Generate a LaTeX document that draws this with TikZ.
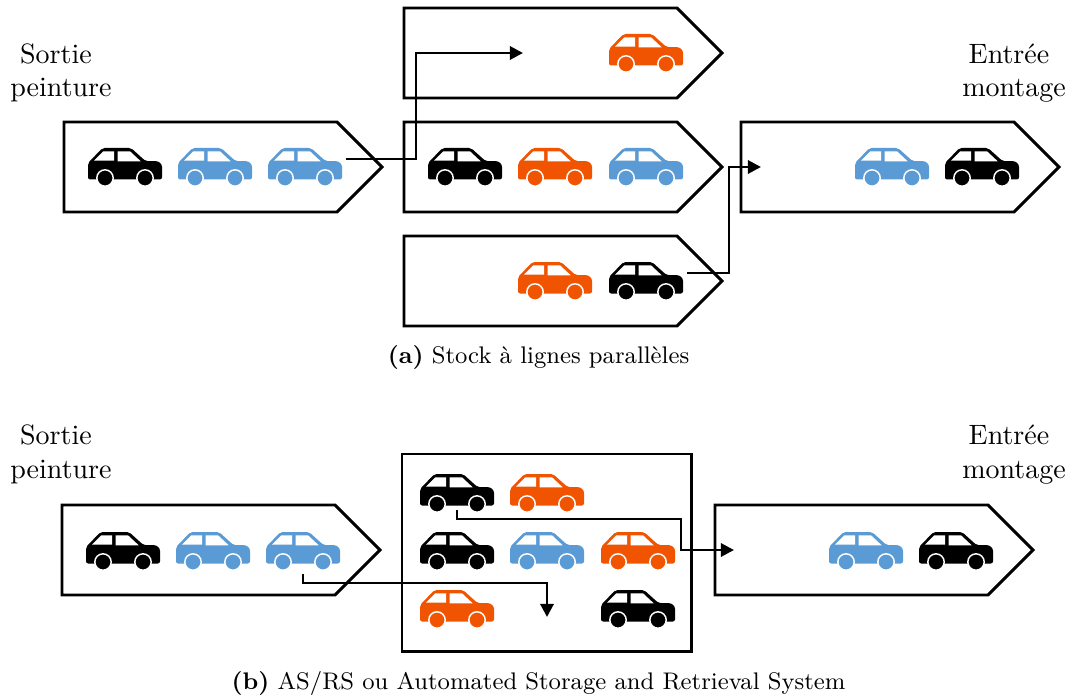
\documentclass[tikz,border=0pt]{standalone}
\usetikzlibrary{arrows.meta,shapes.symbols}
\definecolor{carblue}{HTML}{5B9BD5}
\definecolor{carorange}{HTML}{F05400}
\tikzset{
  pics/car/.style={code={
    \fill[#1,rounded corners=0.8pt] (0,31.5) -- (0,15) -- (14.5,0) -- (43,0) -- (57.7,13.2)
      -- (66,13.2) .. controls (71,13.2) and (74,16) .. (74,21) -- (74,31.5) -- cycle;
    \fill[white] (6,12.7) -- (15.3,3.3) -- (26,3.3) -- (26,12.7) -- cycle;
    \fill[white] (29.7,3.3) -- (42,3.3) -- (52.7,13.3) -- (29.7,13.3) -- cycle;
    \filldraw[#1,draw=white,line width=0.55pt] (17,30) circle (8.2);
    \filldraw[#1,draw=white,line width=0.55pt] (57,30) circle (8.2);
    \coordinate (-nose) at (78,11);
    \coordinate (-under) at (37,36);
  }},
  lane/.style={signal,signal to=east,signal pointer angle=90,draw,line width=1.1pt,
    minimum width=119.25pt,minimum height=33.75pt,inner sep=0pt,outer sep=0pt},
  flow/.style={draw,line width=1.1pt,-{Triangle[length=4.9pt,width=4.9pt]}}
}
\begin{document}
\begin{tikzpicture}[x=0.375pt,y=-0.375pt]
        \useasboundingbox (0,0) rectangle (1067,695);

        \begin{scope}[every node/.style={lane}]
          \node (in1)   at (200.5,167) {};
          \node (top)   at (540.5,53)  {};
          \node (mid)   at (540.5,167) {};
          \node (low)   at (540.5,281) {};
          \node (out1)  at (877.5,167) {};
          \node (in2)   at (198.5,550) {};
          \node (out2)  at (851.5,550) {};
        \end{scope}
        \node (store) [draw,line width=1.1pt,minimum width=108.4pt,minimum height=73.9pt,inner sep=0pt,outer sep=0pt] at (546.5,552.5) {};

        % parallel lanes
        \pic (a1) at (88,148)  {car=black};
        \pic (a2) at (178,148) {car=carblue};
        \pic (a3) at (268,148) {car=carblue};
        \pic (t1) at (609,34)  {car=carorange};
        \pic (m1) at (428,148) {car=black};
        \pic (m2) at (518,148) {car=carorange};
        \pic (m3) at (609,148) {car=carblue};
        \pic (l1) at (518,262) {car=carorange};
        \pic (l2) at (609,262) {car=black};
        \pic (o1) at (855,148) {car=carblue};
        \pic (o2) at (945,148) {car=black};

        % automated store
        \pic (b1) at (86,532)  {car=black};
        \pic (b2) at (176,532) {car=carblue};
        \pic (b3) at (266,532) {car=carblue};
        \pic (s1) at (420,474) {car=black};
        \pic (s2) at (510,474) {car=carorange};
        \pic (s3) at (420,532) {car=black};
        \pic (s4) at (510,532) {car=carblue};
        \pic (s5) at (601,532) {car=carorange};
        \pic (s6) at (420,590) {car=carorange};
        \pic (s7) at (601,590) {car=black};
        \pic (p1) at (829,532) {car=carblue};
        \pic (p2) at (919,532) {car=black};

        \coordinate (tipa) at (523,53);
        \coordinate (tipb) at (761,167);
        \coordinate (tipc) at (547,617);
        \coordinate (tipd) at (734,550);

        \draw[flow] (a3-nose) -- ++(70,0) |- (tipa);
        \draw[flow] (l2-nose) -- ++(42,0) |- (tipb);
        \draw[flow] (b3-under) ++(0,6) -- ++(0,9) -| (tipc);
        \draw[flow] (s1-under) -- ++(0,9) -- ++(224,0) |- (tipd);

        \begin{scope}[every node/.style={anchor=base,inner sep=0pt,font=\fontsize{10.5}{12}\selectfont}]
          \node (sa) at (56,64)    {Sortie};
          \node (pa) at (61,97)    {peinture};
          \node (ea) at (1009,64)  {Entrée};
          \node (ma) at (1014,97)  {montage};
          \node (sb) at (56,444)   {Sortie};
          \node (pb) at (61,478)   {peinture};
          \node (eb) at (1009,444) {Entrée};
          \node (mb) at (1014,478) {montage};
        \end{scope}

        \begin{scope}[every node/.style={anchor=base,inner sep=0pt,font=\fontsize{9}{11}\selectfont}]
          \node (capa) at (538.5,363) {\textbf{(a)}\ Stock à lignes parallèles};
          \node (capb) at (538.5,689) {\textbf{(b)}\ AS/RS ou Automated Storage and Retrieval System};
        \end{scope}

      \end{tikzpicture}
\end{document}
